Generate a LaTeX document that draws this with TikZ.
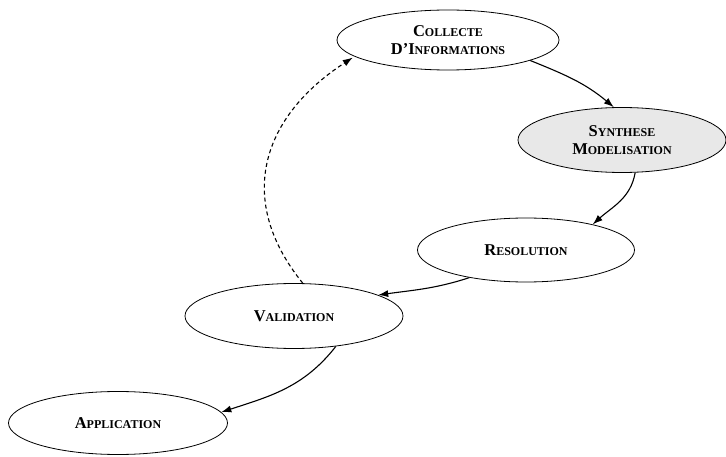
\documentclass[tikz,border=0pt]{standalone}
\usepackage{fontspec}
\setmainfont{Liberation Serif}
\usetikzlibrary{shapes.geometric,arrows.meta}
\newcommand{\petcap}[2]{{\fontsize{16.5}{18}\selectfont #1}{\fontsize{12}{18}\selectfont #2}}
\tikzstyle{etape}=[ellipse,draw,line width=0.8pt,inner sep=0pt,font=\bfseries\fontsize{16.5}{18}\selectfont,align=center]
\tikzstyle{fleche}=[line width=1.1pt,-{Latex[length=10pt,width=7pt]}]

\begin{document}
\begin{tikzpicture}[x=1pt,y=1pt]
\useasboundingbox (0,0) rectangle (726,456);
\node[etape,minimum width=222pt,minimum height=60pt] (collecte) at (448,416) {\petcap{C}{OLLECTE}\\\petcap{D'I}{NFORMATIONS}};
\node[etape,fill=black!9,minimum width=208pt,minimum height=65pt] (synthese) at (622,316) {\petcap{S}{YNTHESE}\\\petcap{M}{ODELISATION}};
\node[etape,minimum width=217pt,minimum height=64pt] (resolution) at (526,206) {\petcap{R}{ESOLUTION}};
\node[etape,minimum width=218pt,minimum height=65pt] (validation) at (294,140) {\petcap{V}{ALIDATION}};
\node[etape,minimum width=219pt,minimum height=63pt] (application) at (118,33) {\petcap{A}{PPLICATION}};
\draw[fleche] (collecte.-14) to[out=-22,in=140] (synthese.104);
\draw[fleche] (synthese.-68) to[out=-100,in=42] (resolution.21);
\draw[fleche] (resolution.-154) to[out=-162,in=8] (validation.14);
\draw[fleche] (validation.-36) to[out=-128,in=18] (application.6);
\draw[fleche,dash pattern=on 4pt off 3pt,shorten >=2pt] (validation.75) to[out=129,in=213,looseness=1.2] (collecte.190);
\end{tikzpicture}
\end{document}
